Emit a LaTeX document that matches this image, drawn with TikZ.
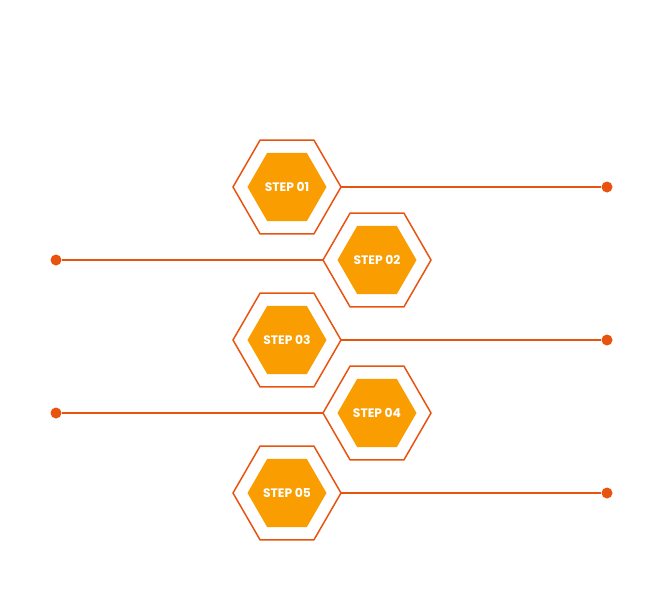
\documentclass[tikz,border=0pt]{standalone}
\usepackage{fontspec}
\setmainfont{Poppins}
\usetikzlibrary{shapes.geometric}
\definecolor{hexline}{HTML}{E8540F}
\definecolor{hexfill}{HTML}{F99D00}
\begin{document}
\begin{tikzpicture}[x=1pt,y=-1pt]
	\useasboundingbox (0,0) rectangle (665,598);
	\begin{scope} [every node/.style={regular polygon, regular polygon sides=6, minimum size=108pt, inner sep=0pt, outer sep=0pt, draw=hexline, line width=1.5pt}]
		\node (h1) at (287,187){};
		\node (h2) at (377,260){};
		\node (h3) at (287,340){};
		\node (h4) at (377,413){};
		\node (h5) at (287,493){};
	\end{scope}
	\begin{scope} [every node/.style={regular polygon, regular polygon sides=6, minimum size=79pt, inner sep=0pt, fill=hexfill, text=white, font=\bfseries\fontsize{12.3}{14}\selectfont}]
		\node (s1) at (h1){STEP 01};
		\node (s2) at (h2){STEP 02};
		\node (s3) at (h3){STEP 03};
		\node (s4) at (h4){STEP 04};
		\node (s5) at (h5){STEP 05};
	\end{scope}
	\begin{scope} [every node/.style={circle, fill=hexline, minimum size=11pt, inner sep=0pt}]
		\node (p1) at (607,187){};
		\node (p2) at (56,260){};
		\node (p3) at (607,340){};
		\node (p4) at (56,413){};
		\node (p5) at (607,493){};
	\end{scope}
	\draw[hexline, line width=1.2pt] (h1.east) -- (p1);
	\draw[hexline, line width=1.2pt] (p2) -- (h2.west);
	\draw[hexline, line width=1.2pt] (h3.east) -- (p3);
	\draw[hexline, line width=1.2pt] (p4) -- (h4.west);
	\draw[hexline, line width=1.2pt] (h5.east) -- (p5);
\end{tikzpicture}
\end{document}
